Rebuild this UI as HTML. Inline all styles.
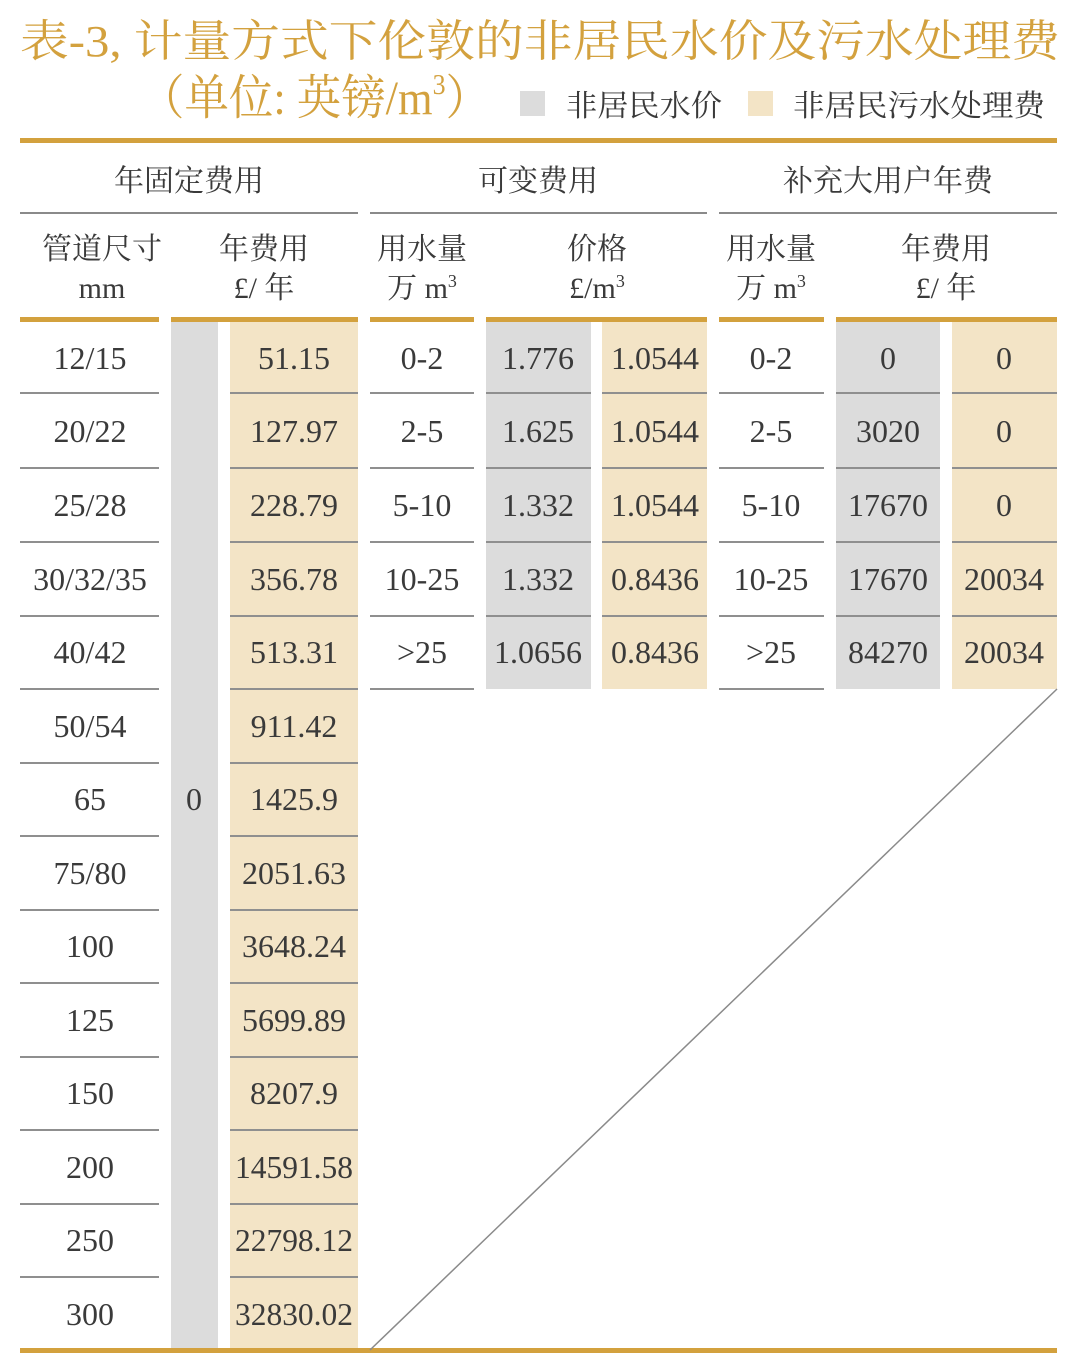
<!DOCTYPE html>
<html><head><meta charset="utf-8"><style>
html,body{margin:0;padding:0;background:#fff}
svg{display:block}
text{font-family:"Liberation Serif","Noto Serif CJK SC",serif;fill:#3a3a3a}
.t{fill:#d3a13e}
.h{font-size:30px}
.n{font-size:32px}
</style></head><body>
<svg width="1073" height="1367" viewBox="0 0 1073 1367">
<text class="t" x="20" y="56" font-size="44" textLength="1040" lengthAdjust="spacingAndGlyphs">表-3, 计量方式下伦敦的非居民水价及污水处理费</text>
<text class="t" x="140" y="114" font-size="48" textLength="350" lengthAdjust="spacingAndGlyphs">（单位: 英镑/m<tspan font-size="28" dy="-20">3</tspan><tspan dy="20">）</tspan></text>
<rect x="520" y="91" width="25" height="25" fill="#dcdcdc"/>
<text x="566" y="116" font-size="30" textLength="156" lengthAdjust="spacingAndGlyphs">非居民水价</text>
<rect x="748" y="91" width="25" height="25" fill="#f3e4c6"/>
<text x="793" y="116" font-size="30" textLength="252" lengthAdjust="spacingAndGlyphs">非居民污水处理费</text>
<rect x="20" y="138" width="1037" height="5" fill="#d3a13e"/>
<g class="h" text-anchor="middle">
<text x="189" y="191">年固定费用</text>
<text x="538" y="191">可变费用</text>
<text x="888" y="191">补充大用户年费</text>
</g>
<g fill="#8a8a8a">
<rect x="20" y="212" width="338" height="2"/><rect x="370" y="212" width="337" height="2"/><rect x="719" y="212" width="338" height="2"/>
</g>
<g class="h" text-anchor="middle">
<text x="102" y="259">管道尺寸</text><text x="102" y="298">mm</text>
<text x="264" y="259">年费用</text><text x="264" y="298">£/ 年</text>
<text x="422" y="259">用水量</text><text x="422" y="298">万 m<tspan font-size="18" dy="-11">3</tspan></text>
<text x="597" y="259">价格</text><text x="597" y="298">£/m<tspan font-size="18" dy="-11">3</tspan></text>
<text x="771" y="259">用水量</text><text x="771" y="298">万 m<tspan font-size="18" dy="-11">3</tspan></text>
<text x="946" y="259">年费用</text><text x="946" y="298">£/ 年</text>
</g>
<rect x="171" y="320" width="47" height="1030" fill="#dcdcdc"/>
<rect x="230" y="320" width="128" height="1030" fill="#f3e4c6"/>
<rect x="486" y="320" width="105" height="369" fill="#dcdcdc"/>
<rect x="602" y="320" width="105" height="369" fill="#f3e4c6"/>
<rect x="836" y="320" width="104" height="369" fill="#dcdcdc"/>
<rect x="952" y="320" width="105" height="369" fill="#f3e4c6"/>
<g fill="#d3a13e">
<rect x="20" y="317" width="139" height="5"/>
<rect x="171" y="317" width="187" height="5"/>
<rect x="370" y="317" width="104" height="5"/>
<rect x="486" y="317" width="221" height="5"/>
<rect x="719" y="317" width="105" height="5"/>
<rect x="836" y="317" width="221" height="5"/>
<rect x="20" y="1348" width="1037" height="5"/>
</g>
<g fill="#8f8f8f">
<rect x="20" y="392" width="139" height="2"/><rect x="20" y="467" width="139" height="2"/><rect x="20" y="541" width="139" height="2"/><rect x="20" y="615" width="139" height="2"/><rect x="20" y="688" width="139" height="2"/><rect x="20" y="762" width="139" height="2"/><rect x="20" y="835" width="139" height="2"/><rect x="20" y="909" width="139" height="2"/><rect x="20" y="982" width="139" height="2"/><rect x="20" y="1056" width="139" height="2"/><rect x="20" y="1129" width="139" height="2"/><rect x="20" y="1203" width="139" height="2"/><rect x="20" y="1276" width="139" height="2"/>
<rect x="230" y="392" width="128" height="2"/><rect x="230" y="467" width="128" height="2"/><rect x="230" y="541" width="128" height="2"/><rect x="230" y="615" width="128" height="2"/><rect x="230" y="688" width="128" height="2"/><rect x="230" y="762" width="128" height="2"/><rect x="230" y="835" width="128" height="2"/><rect x="230" y="909" width="128" height="2"/><rect x="230" y="982" width="128" height="2"/><rect x="230" y="1056" width="128" height="2"/><rect x="230" y="1129" width="128" height="2"/><rect x="230" y="1203" width="128" height="2"/><rect x="230" y="1276" width="128" height="2"/>
</g>
<g fill="#8f8f8f">
<rect x="370" y="392" width="104" height="2"/><rect x="370" y="467" width="104" height="2"/><rect x="370" y="541" width="104" height="2"/><rect x="370" y="615" width="104" height="2"/><rect x="370" y="688" width="104" height="2"/>
<rect x="486" y="392" width="105" height="2"/><rect x="486" y="467" width="105" height="2"/><rect x="486" y="541" width="105" height="2"/><rect x="486" y="615" width="105" height="2"/>
<rect x="602" y="392" width="105" height="2"/><rect x="602" y="467" width="105" height="2"/><rect x="602" y="541" width="105" height="2"/><rect x="602" y="615" width="105" height="2"/>
<rect x="719" y="392" width="105" height="2"/><rect x="719" y="467" width="105" height="2"/><rect x="719" y="541" width="105" height="2"/><rect x="719" y="615" width="105" height="2"/><rect x="719" y="688" width="105" height="2"/>
<rect x="836" y="392" width="104" height="2"/><rect x="836" y="467" width="104" height="2"/><rect x="836" y="541" width="104" height="2"/><rect x="836" y="615" width="104" height="2"/>
<rect x="952" y="392" width="105" height="2"/><rect x="952" y="467" width="105" height="2"/><rect x="952" y="541" width="105" height="2"/><rect x="952" y="615" width="105" height="2"/>
</g>
<line x1="1057" y1="689" x2="370" y2="1350" stroke="#8a8a8a" stroke-width="1.5"/>
<g class="n" text-anchor="middle">
<text x="90" y="369">12/15</text><text x="294" y="369">51.15</text>
<text x="90" y="442">20/22</text><text x="294" y="442">127.97</text>
<text x="90" y="516">25/28</text><text x="294" y="516">228.79</text>
<text x="90" y="590">30/32/35</text><text x="294" y="590">356.78</text>
<text x="90" y="663">40/42</text><text x="294" y="663">513.31</text>
<text x="90" y="737">50/54</text><text x="294" y="737">911.42</text>
<text x="90" y="810">65</text><text x="294" y="810">1425.9</text>
<text x="90" y="884">75/80</text><text x="294" y="884">2051.63</text>
<text x="90" y="957">100</text><text x="294" y="957">3648.24</text>
<text x="90" y="1031">125</text><text x="294" y="1031">5699.89</text>
<text x="90" y="1104">150</text><text x="294" y="1104">8207.9</text>
<text x="90" y="1178">200</text><text x="294" y="1178" textLength="118" lengthAdjust="spacingAndGlyphs">14591.58</text>
<text x="90" y="1251">250</text><text x="294" y="1251" textLength="118" lengthAdjust="spacingAndGlyphs">22798.12</text>
<text x="90" y="1325">300</text><text x="294" y="1325" textLength="118" lengthAdjust="spacingAndGlyphs">32830.02</text>
<text x="194" y="810">0</text>
</g>
<g class="n" text-anchor="middle">
<text x="422" y="369">0-2</text><text x="538" y="369">1.776</text><text x="655" y="369">1.0544</text><text x="771" y="369">0-2</text><text x="888" y="369">0</text><text x="1004" y="369">0</text>
<text x="422" y="442">2-5</text><text x="538" y="442">1.625</text><text x="655" y="442">1.0544</text><text x="771" y="442">2-5</text><text x="888" y="442">3020</text><text x="1004" y="442">0</text>
<text x="422" y="516">5-10</text><text x="538" y="516">1.332</text><text x="655" y="516">1.0544</text><text x="771" y="516">5-10</text><text x="888" y="516">17670</text><text x="1004" y="516">0</text>
<text x="422" y="590">10-25</text><text x="538" y="590">1.332</text><text x="655" y="590">0.8436</text><text x="771" y="590">10-25</text><text x="888" y="590">17670</text><text x="1004" y="590">20034</text>
<text x="422" y="663">&gt;25</text><text x="538" y="663">1.0656</text><text x="655" y="663">0.8436</text><text x="771" y="663">&gt;25</text><text x="888" y="663">84270</text><text x="1004" y="663">20034</text>
</g>
</svg>
</body></html>
